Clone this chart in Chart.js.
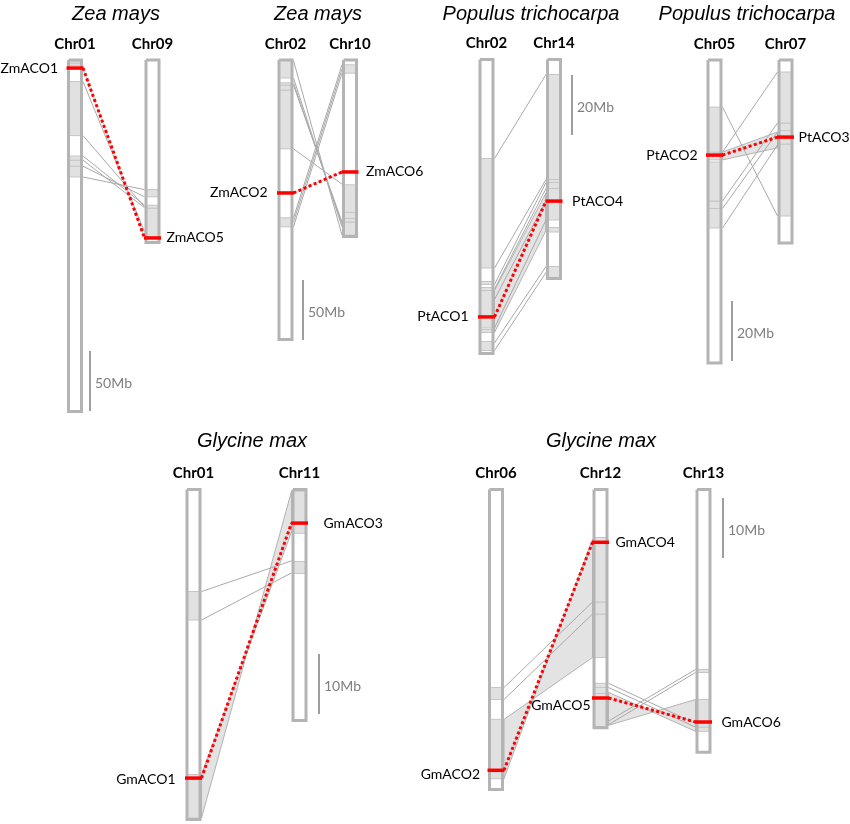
<!DOCTYPE html>
<html>
<head>
<meta charset="utf-8">
<script src="https://cdn.jsdelivr.net/npm/chart.js@4/dist/chart.umd.min.js"></script>
<style>
  body { margin: 0; background: #fff; }
  canvas { display: block; }
</style>
</head>
<body>
<canvas id="synteny" width="850" height="824"></canvas>
<script>
// ---- data (Mb) ----
const speciesTitles = ['Zea mays', 'Zea mays', 'Populus trichocarpa', 'Populus trichocarpa', 'Glycine max', 'Glycine max'];
const barLabels = ['50Mb', '50Mb', '20Mb', '20Mb', '10Mb', '10Mb'];
const barMb = [50, 50, 20, 20, 10, 10];
const chrNames = [['Chr01', 'Chr09'], ['Chr02', 'Chr10'], ['Chr02', 'Chr14'], ['Chr05', 'Chr07'], ['Chr01', 'Chr11'], ['Chr06', 'Chr12', 'Chr13']];
const chrMb = [[293, 152], [233, 147], [98, 73], [101, 61], [55, 38.5], [50, 39.7, 43.8]];

// collinear blocks on each chromosome [start, end]
const blocks = [
  [[[0.5, 2.5], [2.5, 4.5], [18, 63], [80, 83.5], [83.5, 88.5], [88.5, 97.5]],
   [[108, 114], [121, 123.5], [123.5, 147.5]]],
  [[[0, 15], [19, 21], [21, 25], [25, 74], [131.5, 139]],
   [[4, 11], [104, 127], [127, 132], [132, 135], [135, 146]]],
  [[[33, 69.5], [74, 75], [76, 77], [77, 89.5], [90, 91], [94, 97]],
   [[5, 40], [40, 41], [41, 43], [43, 53.5], [56, 57.5], [69, 73]]],
  [[[15.7, 30.7], [30.7, 33.3], [34, 47], [47, 49.5], [49.5, 56]],
   [[4, 21], [21, 23.5], [23.5, 28], [28, 52]]],
  [[[17, 21.75], [47.5, 54.75]],
   [[0.3, 7.3], [12, 14]]],
  [[[33, 35], [38.3, 48.2]],
   [[8, 18.75], [18.75, 20.75], [20.75, 28], [32.3, 33], [33, 34], [34, 39.5]],
   [[30, 30.5], [35, 39], [39, 39.6], [39.6, 40.3]]]
];

// ACO genes: name, panel, chromosome, position
const geneNames = ['ZmACO1', 'ZmACO5', 'ZmACO2', 'ZmACO6', 'PtACO1', 'PtACO4', 'PtACO2', 'PtACO3', 'GmACO1', 'GmACO3', 'GmACO2', 'GmACO4', 'GmACO5', 'GmACO6'];
const genePanel = [0, 0, 1, 1, 2, 2, 3, 3, 4, 4, 5, 5, 5, 5];
const geneChr = [0, 1, 0, 1, 0, 1, 0, 1, 0, 1, 0, 1, 1, 2];
const geneMb = [6.7, 148.3, 110.8, 93.3, 85.8, 47.2, 31.7, 25.7, 48.1, 5.6, 46.8, 8.8, 34.75, 38.75];
// segmental duplication pairs (gene indices)
const genePairs = [[0, 1], [2, 3], [4, 5], [6, 7], [8, 9], [10, 11], [12, 13]];

// syntenic links: [panel, chrA, posA, chrB, posB]
const linkLines = [
  [0, 0, 18, 1, 143], [0, 0, 63, 1, 122.5], [0, 0, 80, 1, 121], [0, 0, 83.5, 1, 123], [0, 0, 88.5, 1, 114], [0, 0, 97.5, 1, 108],
  [1, 0, 0.5, 1, 146], [1, 0, 15, 1, 139], [1, 0, 19, 1, 137], [1, 0, 21, 1, 135], [1, 0, 74, 1, 103.5],
  [1, 0, 131.5, 1, 4], [1, 0, 135, 1, 7.5], [1, 0, 139, 1, 11],
  [2, 0, 33, 1, 5], [2, 0, 69.5, 1, 40], [2, 0, 75, 1, 41], [2, 0, 76.5, 1, 43], [2, 0, 80, 1, 47], [2, 0, 89.5, 1, 53.5], [2, 0, 94.5, 1, 69], [2, 0, 97, 1, 71],
  [3, 0, 15.7, 1, 52], [3, 0, 30.7, 1, 4], [3, 0, 47, 1, 21], [3, 0, 49.5, 1, 24], [3, 0, 56, 1, 28.3],
  [4, 0, 17, 1, 11.9], [4, 0, 21.75, 1, 13.9],
  [5, 0, 33, 1, 18.75], [5, 0, 35, 1, 20.75],
  [5, 1, 32.3, 2, 39], [5, 1, 33, 2, 39.6], [5, 1, 38.6, 2, 30], [5, 1, 39.2, 2, 30.5]
];
// filled ribbons: [panel, chrA, a1, a2, chrB, b1, b2]  (a1 joins b1, a2 joins b2)
const ribbons = [
  [2, 0, 77, 91, 1, 44.5, 57],
  [3, 0, 30.7, 33.3, 1, 24, 29.3],
  [4, 0, 47.5, 54.75, 1, 7.1, 0.3],
  [5, 0, 38.3, 48.2, 1, 28, 8.3],
  [5, 1, 33.8, 39.3, 2, 40.3, 35]
];

// ---- layout (px) ----
const panelTop = [60, 60, 59.5, 60, 489.5, 489.5];
const pxPerMb = [1.2, 1.2, 3, 3, 6, 6];
const chrX = [[75, 152.5], [285.5, 350], [486.5, 554], [714.5, 785.5], [193.5, 299.5], [496, 600.5, 703.5]];
const titlePos = [[116, 14], [318, 14], [531, 14], [747, 14], [252, 441], [601, 441]];
const barPos = [[90, 351], [303, 280], [572, 75], [732, 301], [319, 654], [723, 498]];
const geneSide = [-1, 1, -1, 1, -1, 1, -1, 1, -1, 1, -1, 1, -1, 1];
const geneGap = [9, 6, 10, 8, 10, 10, 9, 5, 10, 16, 8, 7, 2, 10];
const geneDy = [0, 0, 0, 0, 0, 0, 0, 0, 1, 0, 4, 0, 7, 0];
const halfW = 6.5;   // chromosome half width (stroke centre)
const edge = 8;      // outer edge offset

const GREY_LINE = '#a9a9a9';
const CHR_BORDER = '#b4b4b4';
const BLOCK_FILL = '#e1e1e1';
const BLOCK_EDGE = '#c6c6c6';
const RED = '#ff0000';

const Y = (p, mb) => panelTop[p] + mb * pxPerMb[p];
const X = (p, c) => chrX[p][c];
// x of the side of chromosome c facing chromosome other
const sideX = (p, c, other) => X(p, c) + (X(p, other) > X(p, c) ? edge : -edge);

const datasets = [];
function add(points, style) {
  datasets.push(Object.assign({
    type: 'line', data: points, pointRadius: 0, pointHoverRadius: 0, tension: 0,
    fill: false, borderWidth: 1, borderColor: GREY_LINE, borderJoinStyle: 'miter'
  }, style));
}
function box(x0, x1, y0, y1) {
  return [{x: x0, y: y0}, {x: x1, y: y0}, {x: x1, y: y1}, {x: x0, y: y1}, {x: x0, y: y0}];
}

// ribbons
ribbons.forEach(([p, a, a1, a2, b, b1, b2]) => {
  const xa = sideX(p, a, b), xb = sideX(p, b, a);
  add([{x: xa, y: Y(p, a1)}, {x: xb, y: Y(p, b1)}, {x: xb, y: Y(p, b2)}, {x: xa, y: Y(p, a2)}, {x: xa, y: Y(p, a1)}],
    {fill: 'shape', backgroundColor: '#e3e3e3', borderColor: '#b2b2b2', order: 70});
});
// single links
linkLines.forEach(([p, a, pa, b, pb]) => {
  add([{x: sideX(p, a, b), y: Y(p, pa)}, {x: sideX(p, b, a), y: Y(p, pb)}], {order: 60});
});
// chromosomes, blocks
chrMb.forEach((list, p) => {
  list.forEach((len, c) => {
    const x = X(p, c);
    add(box(x - halfW, x + halfW, Y(p, 0), Y(p, len)),
      {fill: 'shape', backgroundColor: '#ffffff', borderWidth: 0, borderColor: 'rgba(0,0,0,0)', order: 50});
    blocks[p][c].forEach(([s, e]) => {
      add(box(x - halfW, x + halfW, Y(p, s), Y(p, e)),
        {fill: 'shape', backgroundColor: BLOCK_FILL, borderColor: BLOCK_EDGE, order: 40});
    });
    add(box(x - halfW, x + halfW, Y(p, 0), Y(p, len)), {borderColor: CHR_BORDER, borderWidth: 3, order: 30});
  });
  // scale bar
  const [bx, by] = barPos[p];
  add([{x: bx, y: by}, {x: bx, y: by + barMb[p] * pxPerMb[p]}], {borderColor: '#7f7f7f', borderWidth: 1.5, order: 30});
});
// duplicated gene pairs
genePairs.forEach(([g1, g2]) => {
  const p = genePanel[g1], a = geneChr[g1], b = geneChr[g2];
  const pts = [{x: sideX(p, a, b), y: Y(p, geneMb[g1])}, {x: sideX(p, b, a), y: Y(p, geneMb[g2])}];
  add(pts, {borderColor: '#b9cfd6', borderWidth: 1, order: 25});
  add(pts, {borderColor: RED, borderWidth: 3, borderDash: [3, 2.5], borderCapStyle: 'butt', order: 20});
});
// gene marks
geneNames.forEach((g, i) => {
  const p = genePanel[i], x = X(p, geneChr[i]), y = Y(p, geneMb[i]);
  add([{x: x - edge - 0.5, y}, {x: x + edge + 0.5, y}], {borderColor: RED, borderWidth: 3.5, borderCapStyle: 'butt', order: 10});
});

const labels = {
  id: 'labels',
  afterDatasetsDraw(chart) {
    const {ctx, scales: {x: sx, y: sy}} = chart;
    const px = v => sx.getPixelForValue(v), py = v => sy.getPixelForValue(v);
    ctx.save();
    ctx.textBaseline = 'middle';
    ctx.fillStyle = '#000';
    ctx.textAlign = 'center';
    ctx.font = 'italic 20px "Liberation Sans", Arial, sans-serif';
    speciesTitles.forEach((t, p) => ctx.fillText(t, px(titlePos[p][0]), py(titlePos[p][1])));
    ctx.font = 'bold 15px Lato, "Open Sans", sans-serif';
    chrNames.forEach((names, p) => names.forEach((n, c) => ctx.fillText(n, px(X(p, c)), py(panelTop[p] - 16))));
    ctx.font = '14px Lato, "Open Sans", sans-serif';
    geneNames.forEach((g, i) => {
      const p = genePanel[i], s = geneSide[i];
      ctx.textAlign = s < 0 ? 'right' : 'left';
      ctx.fillText(g, px(X(p, geneChr[i]) + s * (edge + geneGap[i])), py(Y(p, geneMb[i]) + geneDy[i]));
    });
    ctx.fillStyle = '#7f7f7f';
    ctx.textAlign = 'left';
    barLabels.forEach((t, p) => {
      const [bx, by] = barPos[p];
      ctx.fillText(t, px(bx + 5), py(by + barMb[p] * pxPerMb[p] / 2 + 2));
    });
    ctx.restore();
  }
};

new Chart(document.getElementById('synteny').getContext('2d'), {
  type: 'scatter',
  data: { datasets },
  options: {
    responsive: false,
    animation: false,
    events: [],
    layout: { padding: 0 },
    scales: {
      x: { type: 'linear', min: 0, max: 850, display: false },
      y: { type: 'linear', min: 0, max: 824, reverse: true, display: false }
    },
    plugins: { legend: { display: false }, tooltip: { enabled: false } }
  },
  plugins: [labels]
});
</script>
</body>
</html>
